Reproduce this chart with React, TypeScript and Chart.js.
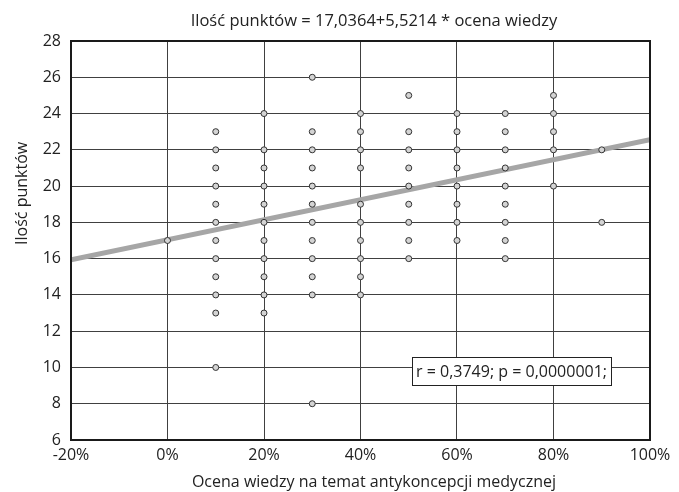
import React, { useEffect, useRef } from "react";
import { Chart, registerables } from "chart.js";

Chart.register(...registerables);

const FONT = "'Open Sans', 'Noto Sans', sans-serif";

const chartTitle = "Ilość punktów = 17,0364+5,5214 * ocena wiedzy";
const xAxisTitle = "Ocena wiedzy na temat antykoncepcji medycznej";
const yAxisTitle = "Ilość punktów";
const statsLabel = "r = 0,3749; p = 0,0000001;";

const interceptCoef = 17.0364;
const slopeCoef = 5.5214;
const xRange = [-0.2, 1];

// knowledge score categories (fraction) and observed point values per column
const scoreLevels = [0, 0.1, 0.2, 0.3, 0.4, 0.5, 0.6, 0.7, 0.8, 0.9];
const pointsAt0 = [17];
const pointsAt10 = [23, 22, 21, 20, 19, 18, 17, 16, 15, 14, 13, 10];
const pointsAt20 = [24, 22, 21, 20, 19, 18, 17, 16, 15, 14, 13];
const pointsAt30 = [26, 23, 22, 21, 20, 19, 18, 17, 16, 15, 14, 8];
const pointsAt40 = [24, 23, 22, 21, 19, 18, 17, 16, 15, 14];
const pointsAt50 = [25, 23, 22, 21, 20, 19, 18, 17, 16];
const pointsAt60 = [24, 23, 22, 21, 20, 19, 18, 17];
const pointsAt70 = [24, 23, 22, 21, 20, 19, 18, 17, 16];
const pointsAt80 = [25, 24, 23, 22, 20];
const pointsAt90 = [22, 18];
const columns = [
  pointsAt0, pointsAt10, pointsAt20, pointsAt30, pointsAt40,
  pointsAt50, pointsAt60, pointsAt70, pointsAt80, pointsAt90,
];

const TEXT = "#222";

const decorPlugin = {
  id: "decor",
  afterDatasetsDraw(chart: any) {
    const { ctx, chartArea } = chart;
    ctx.save();
    ctx.strokeStyle = "#1a1a1a";
    ctx.lineWidth = 2;
    ctx.strokeRect(chartArea.left, chartArea.top, chartArea.right - chartArea.left, chartArea.bottom - chartArea.top);
    ctx.restore();
  },
  afterDraw(chart: any) {
    const { ctx, scales, chartArea } = chart;
    const cx = 374;
    ctx.save();
    ctx.fillStyle = TEXT;
    ctx.textAlign = "center";
    ctx.textBaseline = "middle";
    ctx.font = `16.5px ${FONT}`;
    ctx.fillText(chartTitle, cx, 21);
    ctx.font = `16px ${FONT}`;
    ctx.fillText(xAxisTitle, cx, chartArea.bottom + 42);
    ctx.save();
    ctx.translate(22, scales.y.getPixelForValue(19.6));
    ctx.rotate(-Math.PI / 2);
    ctx.fillText(yAxisTitle, 0, 0);
    ctx.restore();

    // statistics box
    const x0 = Math.round(scales.x.getPixelForValue(0.507));
    const yTop = Math.round(scales.y.getPixelForValue(10) - 10);
    ctx.font = `16px ${FONT}`;
    const w = Math.round(ctx.measureText(statsLabel).width + 8);
    const h = 28;
    ctx.fillStyle = "#ffffff";
    ctx.fillRect(x0, yTop, w, h);
    ctx.strokeStyle = "#222";
    ctx.lineWidth = 1;
    ctx.strokeRect(x0 + 0.5, yTop + 0.5, w, h);
    ctx.fillStyle = TEXT;
    ctx.textAlign = "left";
    ctx.fillText(statsLabel, x0 + 4, yTop + h / 2 + 1);
    ctx.restore();
  },
};

export default function App() {
  const ref = useRef<HTMLCanvasElement>(null);
  useEffect(() => {
    if (!ref.current) return;
    const scatterData: { x: number; y: number }[] = [];
    scoreLevels.forEach((lvl, i) => {
      columns[i].forEach((v) => scatterData.push({ x: lvl, y: v }));
    });
    const lineData = xRange.map((x) => ({ x, y: interceptCoef + slopeCoef * x }));
    const chart = new Chart(ref.current, {
      type: "scatter",
      data: {
        datasets: [
          {
            type: "scatter",
            data: scatterData,
            pointRadius: 3,
            pointBackgroundColor: "#d4d4d4",
            pointBorderColor: "#333",
            pointBorderWidth: 1,
            order: 1,
          },
          {
            type: "line",
            data: lineData,
            borderColor: "#a6a6a6",
            borderWidth: 5,
            pointRadius: 0,
            fill: false,
            order: 2,
          } as any,
        ],
      },
      options: {
        animation: false,
        responsive: false,
        layout: { padding: { left: 0, right: 29, top: 41, bottom: 0 } },
        plugins: {
          legend: { display: false },
          tooltip: { enabled: false },
          title: { display: false },
        },
        scales: {
          x: {
            type: "linear",
            min: -0.2,
            max: 1,
            afterFit: (s: any) => { s.height = 52; },
            ticks: {
              stepSize: 0.2,
              color: TEXT,
              font: { family: FONT, size: 16 },
              padding: 6,
              maxRotation: 0,
              callback: (v: any) => `${Math.round(Number(v) * 100)}%`,
            },
            grid: { color: "#404040", lineWidth: 1, drawTicks: false },
            border: { color: "#1a1a1a", width: 2 },
          },
          y: {
            type: "linear",
            min: 6,
            max: 28,
            afterFit: (s: any) => { s.width = 71; },
            ticks: {
              stepSize: 2,
              color: TEXT,
              font: { family: FONT, size: 16 },
              padding: 10,
            },
            grid: { color: "#404040", lineWidth: 1, drawTicks: false },
            border: { color: "#1a1a1a", width: 2 },
          },
        },
      },
      plugins: [decorPlugin],
    });
    return () => chart.destroy();
  }, []);
  return (
    <div style={{ position: "absolute", left: 0, top: 0, width: 679, height: 492 }}>
      <canvas ref={ref} width={679} height={492} style={{ width: 679, height: 492 }} />
    </div>
  );
}
